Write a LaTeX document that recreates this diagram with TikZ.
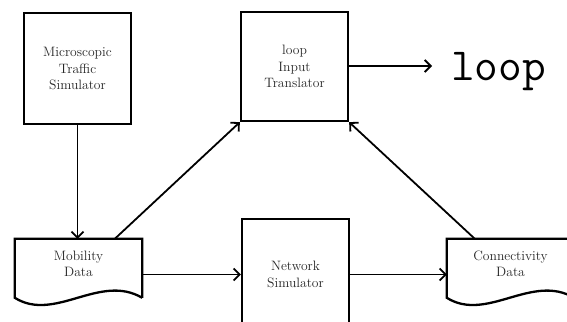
\documentclass[tikz,border=0pt]{standalone}
\usetikzlibrary{arrows.meta,calc}
\tikzset{
  boxline/.style={line width=2.3pt},
  conn/.style={line width=1.8pt,-{Straight Barb[length=6pt,width=12pt,line width=1.8pt]}},
  procbox/.style={boxline,draw,rectangle,minimum width=107pt,inner sep=0pt,align=center,
    text=black!85,font=\fontsize{13.6pt}{16.3pt}\selectfont},
  docnode/.style={rectangle,minimum width=127pt,minimum height=50pt,inner sep=0pt,align=center,
    text=black!85,font=\fontsize{13.6pt}{16.3pt}\selectfont},
}
\newcommand\docoutline[1]{%
  \draw[boxline] ($(#1.north east)+(0,59)$) -- (#1.north east) -- (#1.north west)
    -- ($(#1.north west)+(0,59)$)
    .. controls ($(#1.north west)+(40,84)$) and ($(#1.north west)+(85,34)$) ..
    ($(#1.north east)+(0,59)$);
}
\begin{document}
\begin{tikzpicture}[x=1pt,y=-1pt]
\useasboundingbox (0,0) rectangle (567,321);
\clip (0,0) rectangle (567,321);
\node[procbox,minimum height=111pt] (ms) at (77.5,68.5) {Microscopic\\Traffic\\Simulator};
\node[procbox,minimum height=109pt] (tr) at (294.5,66.5) {loop\\Input\\Translator};
\node[procbox,minimum height=111pt] (ns) at (295.5,274.5) {Network\\Simulator};
\node[docnode] (mob) at (78.5,264) {Mobility\\Data};
\node[docnode] (con) at (510.5,264) {Connectivity\\Data};
\docoutline{mob}
\docoutline{con}
\node[anchor=base west,inner xsep=19pt,inner ysep=0pt,font=\ttfamily\fontsize{46pt}{46pt}\selectfont] (lp) at (432,80) {loop};
\draw[conn] (ms.south) -- (ms.south |- mob.north);
\draw[conn] ($(mob.north west)+(100,0)$) -- (tr.south west);
\draw[conn] ($(con.north west)+(28,0)$) -- (tr.south east);
\draw[conn] (mob.east |- ns.west) -- (ns.west);
\draw[conn] (ns.east) -- (ns.east -| con.west);
\draw[conn] ([yshift=0.5pt]tr.east) -- ([yshift=0.5pt]tr.east -| lp.west);
\end{tikzpicture}
\end{document}
